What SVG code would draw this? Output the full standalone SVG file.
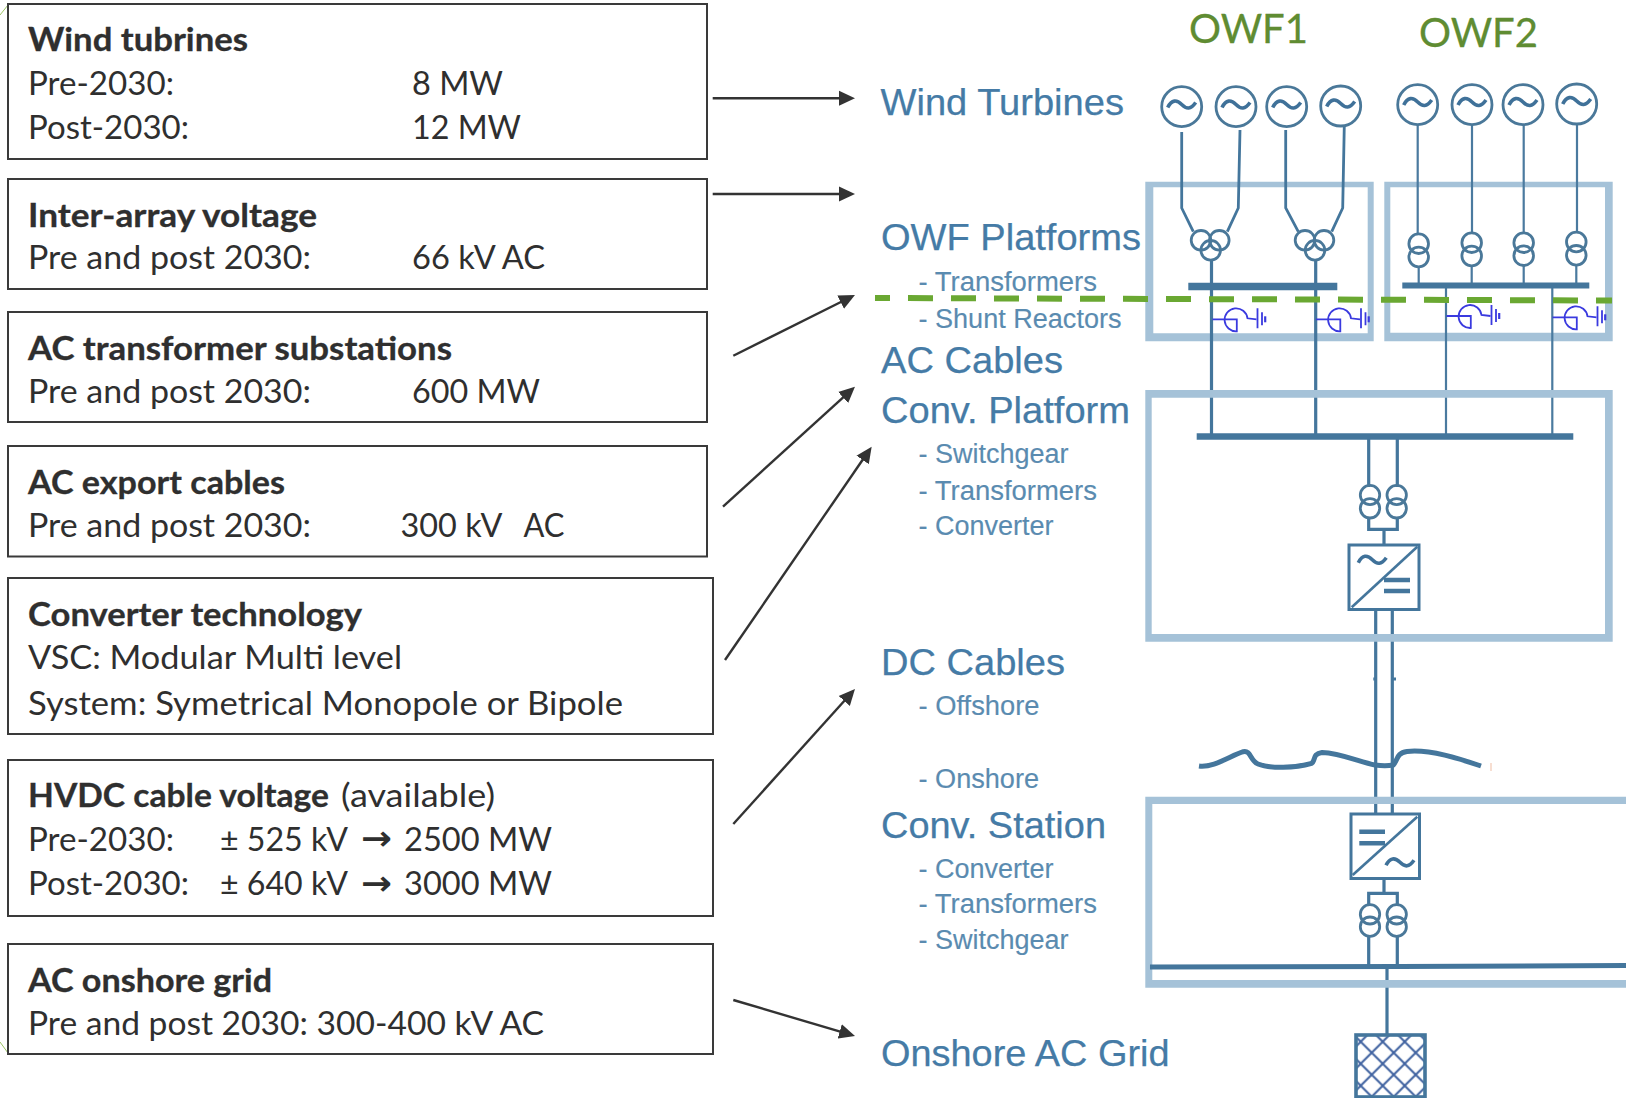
<svg xmlns="http://www.w3.org/2000/svg" xmlns:xlink="http://www.w3.org/1999/xlink" width="1626" height="1098" viewBox="0 0 1626 1098">
<style>
.box{fill:#fff;stroke:#3a3a3a;stroke-width:2}
.t{font-family:"Lato","Open Sans",sans-serif;font-size:32px;fill:#2f2f2f}
.b{font-weight:700;stroke:#2f2f2f;stroke-width:.3}
.ar{font-family:"DejaVu Sans",sans-serif;font-weight:700;font-size:34px;fill:#2f2f2f}
.h{font-family:"Liberation Sans",Arial,sans-serif;font-size:37.5px;fill:#457ba6;stroke:#457ba6;stroke-width:.25}
.s{font-family:"Liberation Sans",Arial,sans-serif;font-size:27px;fill:#5a8bb0;stroke:#5a8bb0;stroke-width:.15}
.owf{font-family:"Lato","Open Sans",sans-serif;font-size:41px;fill:#5f8c32;stroke:#5f8c32;stroke-width:.3}
.a{stroke:#333;stroke-width:2.4;fill:none;marker-end:url(#ah)}
.frame{fill:#a5c2d8;fill-rule:evenodd}
.w1{stroke:#4a7a9f;stroke-width:2.2;fill:none}
.w2{stroke:#44769c;stroke-width:3.2;fill:none}
.c{stroke:#4a7899;stroke-width:2.8;fill:none}
.bus{stroke:#44769c;fill:none}
.conv{stroke:#44769c;stroke-width:3;fill:#fff}
</style>
<defs>
<marker id="ah" markerUnits="userSpaceOnUse" markerWidth="18" markerHeight="16" refX="12" refY="8" orient="auto"><path d="M0,0.5 L16,8 L0,15.500 Z" fill="#333"/></marker>
<path id="tilde" d="M-14,2 C-10,-6 -5,-6 0,-1 S9,4 14,-3" fill="none" stroke="#3f7199" stroke-width="3.600"/>
<g id="reactor" fill="none" stroke="#3a3adf" stroke-width="1.800">
<path d="M0,0 H24.300 V12 A11.500,11.500 0 1 1 35,-1 L44,0"/>
<path d="M45,-11 V9 M49.500,-7 V6"/>
<path d="M52.700,-3 V3" stroke-width="2.200"/>
</g>
<pattern id="hatch" patternUnits="userSpaceOnUse" x="1382.700" y="1041.700" width="22" height="22">
<path d="M0,0 L22,22 M22,0 L0,22" stroke="#3f62a0" stroke-width="2"/>
</pattern>
</defs>
<rect width="1626" height="1098" fill="#fff"/>
<g id="edge-marks" stroke="#9cc264" stroke-width="1" fill="none">
<path d="M0,15 L8,5 M0,1042 L8,1053"/>
</g>

<g id="box-wind-turbines">
<rect class="box" x="8" y="4" width="699" height="155"/>
<text class="t b" x="28" y="51" textLength="220" lengthAdjust="spacingAndGlyphs">Wind tubrines</text>
<text class="t" x="28" y="95" textLength="146" lengthAdjust="spacingAndGlyphs">Pre-2030:</text>
<text class="t" x="412" y="95" textLength="91" lengthAdjust="spacingAndGlyphs">8 MW</text>
<text class="t" x="28" y="139" textLength="161" lengthAdjust="spacingAndGlyphs">Post-2030:</text>
<text class="t" x="412" y="139" textLength="109" lengthAdjust="spacingAndGlyphs">12 MW</text>
</g>
<g id="box-inter-array">
<rect class="box" x="8" y="179" width="699" height="110"/>
<text class="t b" x="28" y="226.500" textLength="289" lengthAdjust="spacingAndGlyphs">Inter-array voltage</text>
<text class="t" x="28" y="269" textLength="283" lengthAdjust="spacingAndGlyphs">Pre and post 2030:</text>
<text class="t" x="412" y="269" textLength="133" lengthAdjust="spacingAndGlyphs">66 kV AC</text>
</g>
<g id="box-ac-substations">
<rect class="box" x="8" y="312" width="699" height="110"/>
<text class="t b" x="28" y="359.500" textLength="424" lengthAdjust="spacingAndGlyphs">AC transformer substations</text>
<text class="t" x="28" y="402.500" textLength="283" lengthAdjust="spacingAndGlyphs">Pre and post 2030:</text>
<text class="t" x="412" y="402.500" textLength="128" lengthAdjust="spacingAndGlyphs">600 MW</text>
</g>
<g id="box-ac-export">
<rect class="box" x="8" y="446" width="699" height="110.500"/>
<text class="t b" x="28" y="493.500" textLength="257" lengthAdjust="spacingAndGlyphs">AC export cables</text>
<text class="t" x="28" y="536.500" textLength="283" lengthAdjust="spacingAndGlyphs">Pre and post 2030:</text>
<text class="t" x="400.500" y="536.500" textLength="102" lengthAdjust="spacingAndGlyphs">300 kV</text>
<text class="t" x="523.500" y="536.500" textLength="41" lengthAdjust="spacingAndGlyphs">AC</text>
</g>
<g id="box-converter">
<rect class="box" x="8" y="578" width="705" height="156"/>
<text class="t b" x="28" y="626" textLength="334" lengthAdjust="spacingAndGlyphs">Converter technology</text>
<text class="t" x="28" y="668.500" textLength="374" lengthAdjust="spacingAndGlyphs">VSC: Modular Multi level</text>
<text class="t" x="28" y="714.500" textLength="595" lengthAdjust="spacingAndGlyphs">System: Symetrical Monopole or Bipole</text>
</g>
<g id="box-hvdc">
<rect class="box" x="8" y="760" width="705" height="156"/>
<text class="t b" x="28" y="807" textLength="301" lengthAdjust="spacingAndGlyphs">HVDC cable voltage</text>
<text class="t" x="341" y="807" textLength="154" lengthAdjust="spacingAndGlyphs">(available)</text>
<text class="t" x="28" y="850.500" textLength="146" lengthAdjust="spacingAndGlyphs">Pre-2030:</text>
<text class="t" x="220" y="850.500" textLength="128" lengthAdjust="spacingAndGlyphs">± 525 kV</text>
<text class="ar" x="361" y="850" textLength="31" lengthAdjust="spacingAndGlyphs">→</text>
<text class="t" x="404" y="850.500" textLength="148" lengthAdjust="spacingAndGlyphs">2500 MW</text>
<text class="t" x="28" y="895" textLength="161" lengthAdjust="spacingAndGlyphs">Post-2030:</text>
<text class="t" x="220" y="895" textLength="128" lengthAdjust="spacingAndGlyphs">± 640 kV</text>
<text class="ar" x="361" y="894.500" textLength="31" lengthAdjust="spacingAndGlyphs">→</text>
<text class="t" x="404" y="895" textLength="148" lengthAdjust="spacingAndGlyphs">3000 MW</text>
</g>
<g id="box-ac-onshore">
<rect class="box" x="8" y="944" width="705" height="110"/>
<text class="t b" x="28" y="991.500" textLength="244" lengthAdjust="spacingAndGlyphs">AC onshore grid</text>
<text class="t" x="28" y="1034.500" textLength="516" lengthAdjust="spacingAndGlyphs">Pre and post 2030: 300-400 kV AC</text>
</g>

<g id="labels">
<g id="label-wind-turbines"><text class="h" x="880.500" y="115" textLength="243.500" lengthAdjust="spacingAndGlyphs">Wind Turbines</text></g>
<g id="label-owf-platforms">
<text class="h" x="881" y="250" textLength="260" lengthAdjust="spacingAndGlyphs">OWF Platforms</text>
<text class="s" x="918.500" y="291" textLength="178.500" lengthAdjust="spacingAndGlyphs">- Transformers</text>
<text class="s" x="918.500" y="327.500" textLength="203" lengthAdjust="spacingAndGlyphs">- Shunt Reactors</text>
</g>
<g id="label-ac-cables"><text class="h" x="881" y="373" textLength="182" lengthAdjust="spacingAndGlyphs">AC Cables</text></g>
<g id="label-conv-platform">
<text class="h" x="881" y="423" textLength="249" lengthAdjust="spacingAndGlyphs">Conv. Platform</text>
<text class="s" x="918.500" y="463" textLength="150" lengthAdjust="spacingAndGlyphs">- Switchgear</text>
<text class="s" x="918.500" y="500" textLength="178.500" lengthAdjust="spacingAndGlyphs">- Transformers</text>
<text class="s" x="918.500" y="535" textLength="135" lengthAdjust="spacingAndGlyphs">- Converter</text>
</g>
<g id="label-dc-cables">
<text class="h" x="881" y="675" textLength="184" lengthAdjust="spacingAndGlyphs">DC Cables</text>
<text class="s" x="918.500" y="715" textLength="121" lengthAdjust="spacingAndGlyphs">- Offshore</text>
<text class="s" x="918.500" y="788" textLength="120.500" lengthAdjust="spacingAndGlyphs">- Onshore</text>
</g>
<g id="label-conv-station">
<text class="h" x="881" y="838" textLength="225" lengthAdjust="spacingAndGlyphs">Conv. Station</text>
<text class="s" x="918.500" y="878" textLength="135" lengthAdjust="spacingAndGlyphs">- Converter</text>
<text class="s" x="918.500" y="913" textLength="178.500" lengthAdjust="spacingAndGlyphs">- Transformers</text>
<text class="s" x="918.500" y="949" textLength="150" lengthAdjust="spacingAndGlyphs">- Switchgear</text>
</g>
<g id="label-onshore-grid"><text class="h" x="881" y="1066" textLength="288.500" lengthAdjust="spacingAndGlyphs">Onshore AC Grid</text></g>
<g id="label-owf1"><text class="owf" x="1189" y="43" textLength="119" lengthAdjust="spacingAndGlyphs">OWF1</text></g>
<g id="label-owf2"><text class="owf" x="1419" y="47" textLength="119" lengthAdjust="spacingAndGlyphs">OWF2</text></g>
</g>

<g id="platform-owf1"><path class="frame" d="M1145.300,181.700 H1373.700 V341.300 H1145.300 Z M1153.300,187.300 H1367.700 V333.300 H1153.300 Z"/></g>
<g id="platform-owf2"><path class="frame" d="M1384.300,181.700 H1612.700 V341.300 H1384.300 Z M1390.300,187.300 H1605 V332.700 H1390.300 Z"/></g>

<g id="connectors">
<line class="a" x1="712.700" y1="98.300" x2="851" y2="98.300"/>
<line class="a" x1="712.700" y1="194" x2="851" y2="194"/>
<line class="a" x1="733.300" y1="355.700" x2="851.400" y2="296.800"/>
<line class="a" x1="723" y1="506.700" x2="852" y2="389.400"/>
<line class="a" x1="725" y1="660" x2="869.400" y2="450"/>
<line class="a" x1="733.300" y1="824" x2="852.300" y2="692"/>
<line class="a" x1="733.300" y1="1000" x2="851.200" y2="1034.900"/>
<path class="w2" style="stroke-width:2.800" d="M1181.700,132 V208 L1193.300,231.700 M1240,130 L1238.300,208 L1227.300,231.700 M1285.700,130 V208 L1298.300,231.700 M1344.300,125 L1342.700,208 L1331.700,231.700"/>
<path class="w1" d="M1417.700,125 V234 M1472,125 V233 M1523.700,125 V233 M1577,125 V232 M1418.700,267 V283 M1471.700,266 V283 M1523.700,266 V283 M1576.300,265 V283"/>
<path class="w2" d="M1211.500,260 V434 M1315.700,260 V434"/>
<path class="w1" d="M1446,288 V434 M1552.300,288 V434"/>
<path class="w2" d="M1368.700,439 V487 M1397.300,439 V487 M1368.700,517 V529.300 H1397.300 V517 M1384,529.300 V545"/>
<path class="w2" d="M1375.700,609 V815 M1392.300,609 V815"/>
<path class="w2" d="M1373.300,679 H1377 M1392,679 H1396"/>
<path class="w2" d="M1384,878 V893.300 M1368.700,905 V893.300 H1397.300 V905 M1368.700,936 V966 M1397.300,936 V966"/>
<path class="w2" d="M1387,966 V1034"/>
<path d="M1199,766 C1213,768 1230,756 1243.300,751.700 C1251,750 1250,761 1258,764 C1270,769 1295,768 1311.700,763.300 C1316,760 1312,754 1322,752.500 C1340,753 1360,762 1375,765 C1382,766 1388,766 1393.300,765 C1398,760 1396,753 1407,751.500 C1430,749 1460,759 1481,766" fill="none" stroke="#44769c" stroke-width="5"/>
<path d="M1491,763 V771" stroke="#f5d3c2" stroke-width="1.500" fill="none"/>
</g>

<g id="platform-conv"><path class="frame" d="M1145.300,390 H1612.700 V641.700 H1145.300 Z M1151.700,397.700 H1605 V634 H1151.700 Z"/></g>
<g id="station-frame"><path class="frame" d="M1145.300,796.700 H1640 V987.700 H1145.300 Z M1152.300,804 H1640 V980 H1152.300 Z"/></g>

<g id="owf-divider"><path d="M875,298 L1612,300.500" stroke="#6aa832" stroke-width="6" stroke-dasharray="25 18" stroke-dashoffset="10" fill="none"/></g>

<g id="owf1-generators">
<g id="gen-1-1"><circle class="c" cx="1181.700" cy="106.700" r="20"/><use href="#tilde" x="1181.700" y="105.500"/></g>
<g id="gen-1-2"><circle class="c" cx="1236" cy="106.700" r="20"/><use href="#tilde" x="1236" y="105.500"/></g>
<g id="gen-1-3"><circle class="c" cx="1286.700" cy="106.700" r="20"/><use href="#tilde" x="1286.700" y="105.500"/></g>
<g id="gen-1-4"><circle class="c" cx="1340.700" cy="106" r="20"/><use href="#tilde" x="1340.700" y="104.500"/></g>
</g>
<g id="owf2-generators">
<g id="gen-2-1"><circle class="c" cx="1417.700" cy="104.700" r="20"/><use href="#tilde" x="1417.700" y="103"/></g>
<g id="gen-2-2"><circle class="c" cx="1472" cy="104.700" r="20"/><use href="#tilde" x="1472" y="103"/></g>
<g id="gen-2-3"><circle class="c" cx="1523" cy="104.700" r="20"/><use href="#tilde" x="1523" y="103"/></g>
<g id="gen-2-4"><circle class="c" cx="1576.700" cy="104" r="20"/><use href="#tilde" x="1576.700" y="102"/></g>
</g>
<g id="owf1-transformers">
<g id="tr-1-a"><circle class="c" cx="1201" cy="240.300" r="9.800"/><circle class="c" cx="1219.300" cy="240.300" r="9.800"/><circle class="c" cx="1210.700" cy="250.300" r="9.800"/></g>
<g id="tr-1-b"><circle class="c" cx="1305" cy="240.300" r="9.800"/><circle class="c" cx="1324" cy="240.300" r="9.800"/><circle class="c" cx="1315" cy="250.300" r="9.800"/></g>
</g>
<g id="owf2-transformers">
<g id="tr-2-a"><circle class="c" cx="1418.700" cy="243.700" r="9.800"/><circle class="c" cx="1418.700" cy="257" r="9.800"/></g>
<g id="tr-2-b"><circle class="c" cx="1471.700" cy="242.700" r="9.800"/><circle class="c" cx="1471.700" cy="256" r="9.800"/></g>
<g id="tr-2-c"><circle class="c" cx="1523.700" cy="242.700" r="9.800"/><circle class="c" cx="1523.700" cy="255.700" r="9.800"/></g>
<g id="tr-2-d"><circle class="c" cx="1576.300" cy="242" r="9.800"/><circle class="c" cx="1576.300" cy="255.300" r="9.800"/></g>
</g>
<g id="busbars">
<path class="bus" stroke-width="7.700" d="M1188.300,286.500 H1337.300"/>
<path class="bus" stroke-width="6" d="M1402.300,285.500 H1589.300"/>
<path class="bus" stroke-width="6.600" d="M1196.700,436.500 H1573.300"/>
<path class="bus" stroke-width="5" d="M1150,967 L1400,966.500 L1640,965.500"/>
</g>
<g id="shunt-reactors">
<use href="#reactor" x="1212.500" y="319.300"/>
<use href="#reactor" x="1316" y="319.300"/>
<use href="#reactor" x="1446.500" y="316"/>
<use href="#reactor" x="1552.500" y="317.300"/>
</g>
<g id="conv-platform-equipment">
<circle class="c" cx="1370" cy="495" r="9.700"/><circle class="c" cx="1370" cy="508.300" r="9.700"/>
<circle class="c" cx="1396.700" cy="495" r="9.700"/><circle class="c" cx="1396.700" cy="508.300" r="9.700"/>
<rect class="conv" x="1349" y="545" width="70" height="64.500"/>
<path class="w2" style="stroke-width:2.600" d="M1351.700,607.300 L1417.300,546.700"/>
<use href="#tilde" x="1372.300" y="560.700"/>
<path class="bus" stroke-width="4.500" d="M1384,580 H1410 M1384,591 H1410"/>
</g>
<g id="conv-station-equipment">
<rect class="conv" x="1351" y="814" width="68.500" height="64.500"/>
<path class="w2" style="stroke-width:2.600" d="M1352.700,875 L1417.300,816.700"/>
<path class="bus" stroke-width="4.500" d="M1359.300,831.700 H1385 M1359.300,843.300 H1385"/>
<use href="#tilde" x="1400" y="863.300"/>
<circle class="c" cx="1370" cy="914.300" r="9.700"/><circle class="c" cx="1370" cy="926.700" r="9.700"/>
<circle class="c" cx="1396.700" cy="914.300" r="9.700"/><circle class="c" cx="1396.700" cy="926.700" r="9.700"/>
</g>
<g id="onshore-grid"><rect x="1356" y="1035" width="69" height="62" fill="url(#hatch)" stroke="#44769c" stroke-width="3.600"/></g>
</svg>
